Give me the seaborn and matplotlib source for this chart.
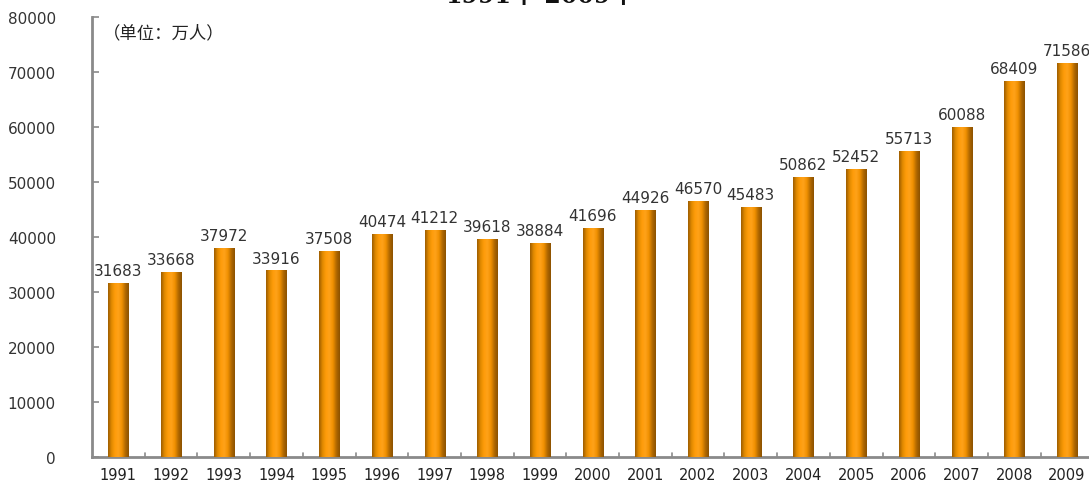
import numpy as np
import pandas as pd
import matplotlib
matplotlib.use("Agg")
import matplotlib.pyplot as plt
from matplotlib.colors import LinearSegmentedColormap
import seaborn as sns

# Annual figures, unit: 10k persons
years = ["1991", "1992", "1993", "1994", "1995", "1996", "1997", "1998", "1999", "2000",
         "2001", "2002", "2003", "2004", "2005", "2006", "2007", "2008", "2009"]
values = [31683, 33668, 37972, 33916, 37508, 40474, 41212, 39618, 38884, 41696,
          44926, 46570, 45483, 50862, 52452, 55713, 60088, 68409, 71586]
y_ticks = [0, 10000, 20000, 30000, 40000, 50000, 60000, 70000, 80000]
title_text = "1991年-2009年"
unit_text = "（单位：万人）"

sns.set_theme(style="white")
plt.rcParams["font.family"] = ["DejaVu Sans", "Noto Sans CJK SC"]

df = pd.DataFrame({"year": years, "value": values})

fig = plt.figure(figsize=(10.89, 4.81), dpi=100)
W, H = 1089, 481
x0, x1 = 92, 92 + 19 * 52.7
y0, y1 = 458, 18
ax = fig.add_axes([x0 / W, 1 - y0 / H, (x1 - x0) / W, (y0 - y1) / H])

sns.barplot(data=df, x="year", y="value", color="#FF9900", width=0.38,
            saturation=1, ax=ax, zorder=2)

# Cylinder-like shading on each bar
cmap = LinearSegmentedColormap.from_list(
    "bar", ["#9A5A00", "#E08A00", "#FF9C0A", "#FFA21A", "#F09000", "#B06800", "#8A5000"])
grad = np.linspace(0, 1, 256).reshape(1, -1)
for p in ax.patches:
    bx, by = p.get_x(), p.get_y()
    bw, bh = p.get_width(), p.get_height()
    im = ax.imshow(grad, cmap=cmap, aspect="auto", extent=[bx, bx + bw, by, by + bh],
                   zorder=3, interpolation="bicubic")
    im.set_clip_path(p)

ax.set_xlim(-0.5, len(years) - 0.5)
ax.set_ylim(0, 80000)
ax.set_yticks(y_ticks)
ax.set_yticklabels([str(t) for t in y_ticks])
ax.set_xlabel("")
ax.set_ylabel("")

for i, v in enumerate(values):
    ax.text(i, v + 900, str(v), ha="center", va="bottom", fontsize=11,
            color="#333333", zorder=5)

for side in ["top", "right"]:
    ax.spines[side].set_visible(False)
for side in ["left", "bottom"]:
    ax.spines[side].set_color("#8a8a8a")
    ax.spines[side].set_linewidth(2)

ax.tick_params(axis="y", direction="in", length=5, width=1.2, color="#8a8a8a",
               pad=26, labelsize=11, labelcolor="#333333", left=True)
ax.tick_params(axis="x", length=0, pad=7, labelsize=10.5, labelcolor="#222222")
# small boundary ticks between categories
for i in range(len(years) - 1):
    ax.plot([i + 0.5, i + 0.5], [0, 700], color="#8a8a8a", lw=1.2, zorder=1,
            clip_on=False)

ax.set_facecolor("white")
fig.patch.set_facecolor("white")

fig.text(103 / W, 1 - 33 / H, unit_text, fontsize=12.5, family=["Noto Sans CJK SC"],
         va="center", ha="left", color="#222222")
fig.text(540 / W, 1 + 4 / H, title_text, fontsize=17, fontweight="bold",
         family=["DejaVu Serif", "Noto Sans CJK SC"], va="center", ha="center",
         color="#111111")

fig.savefig("out.png", dpi=100, facecolor="white")
